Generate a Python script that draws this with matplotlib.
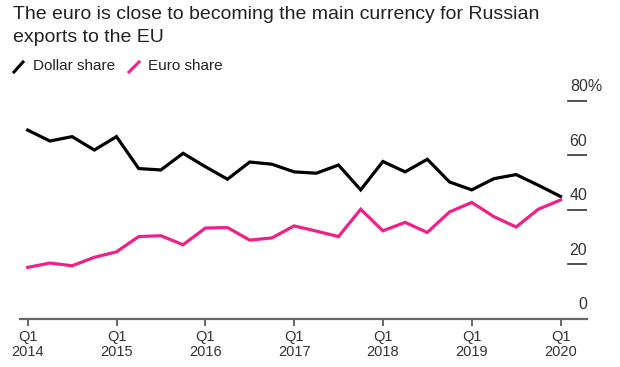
import numpy as np
import matplotlib.pyplot as plt
from matplotlib.lines import Line2D

# quarterly shares, Q1 2014 .. Q1 2020
dollar_share = [69.2, 65.2, 66.8, 61.9, 66.8, 55.1, 54.6, 60.7, 55.8, 51.2,
                57.5, 56.7, 53.9, 53.4, 56.4, 47.3, 57.7, 53.9, 58.5, 50.2,
                47.3, 51.4, 52.9, 49.0, 44.9]
euro_share = [18.9, 20.5, 19.5, 22.6, 24.6, 30.2, 30.5, 27.2, 33.3, 33.5,
              28.9, 29.7, 34.1, 32.2, 30.2, 40.2, 32.3, 35.4, 31.7, 39.2,
              42.7, 37.5, 33.7, 40.2, 43.6]
years = ['2014', '2015', '2016', '2017', '2018', '2019', '2020']
y_ticks = [20, 40, 60, 80]

W, H = 620, 367
PINK = '#f0208a'
GREY = '#666666'
TXT = '#333333'

fig = plt.figure(figsize=(W / 100, H / 100), dpi=100)
plt.rcParams['font.family'] = 'Liberation Sans'

def fx(px):
    return px / W

def fy(py):
    return 1 - py / H

# axes: left edge 20px, right edge 587px, y=0 at 319px, top at 85 units
ax = fig.add_axes([fx(20), fy(319), fx(587 - 20), 85 * 2.73 / H])
x = np.arange(len(dollar_share))
ax.plot(x, dollar_share, color='black', lw=2.3, solid_joinstyle='miter')
ax.plot(x, euro_share, color=PINK, lw=2.3, solid_joinstyle='miter')
ax.set_xlim(-(27.7 - 20) / 22.2, (587 - 27.7) / 22.2)
ax.set_ylim(0, 85)

for s in ['top', 'right', 'left']:
    ax.spines[s].set_visible(False)
ax.spines['bottom'].set_color(GREY)
ax.spines['bottom'].set_linewidth(1.6)
ax.set_yticks([])
ax.set_xticks(np.arange(0, len(x), 4))
ax.set_xticklabels(['Q1\n' + y for y in years], fontsize=10.5, color=TXT,
                   linespacing=1.1)
ax.tick_params(axis='x', length=5, width=1.4, color=GREY, pad=3)

# right-hand value labels with short rule under each
x0 = (568 - 20) / (587 - 20)
tr = ax.get_yaxis_transform()
for v in y_ticks:
    ax.axhline(v, xmin=x0, xmax=1.0, color=TXT, lw=1.2)
    if v == 80:
        ax.text((570 - 20) / (587 - 20), v + 2.4, '80%', transform=tr,
                ha='left', va='bottom', fontsize=11.5, color=TXT)
    else:
        ax.text(1.0, v + 2.4, str(v), transform=tr,
                ha='right', va='bottom', fontsize=11.5, color=TXT)
ax.text(1.0, 2.4, '0', transform=tr, ha='right', va='bottom',
        fontsize=11.5, color=TXT)

# title
fig.text(fx(13), fy(19), 'The euro is close to becoming the main currency for Russian',
         fontsize=14, color='#222222', va='baseline')
fig.text(fx(13), fy(42), 'exports to the EU', fontsize=14, color='#222222', va='baseline')

# legend
fig.add_artist(Line2D([fx(14), fx(23)], [fy(72), fy(62)], color='black', lw=2.2))
fig.text(fx(33), fy(70), 'Dollar share', fontsize=11, color='#222222', va='baseline')
fig.add_artist(Line2D([fx(129), fx(139)], [fy(72), fy(62)], color=PINK, lw=2.2))
fig.text(fx(148), fy(70), 'Euro share', fontsize=11, color='#222222', va='baseline')

fig.savefig('out.png', dpi=100)
